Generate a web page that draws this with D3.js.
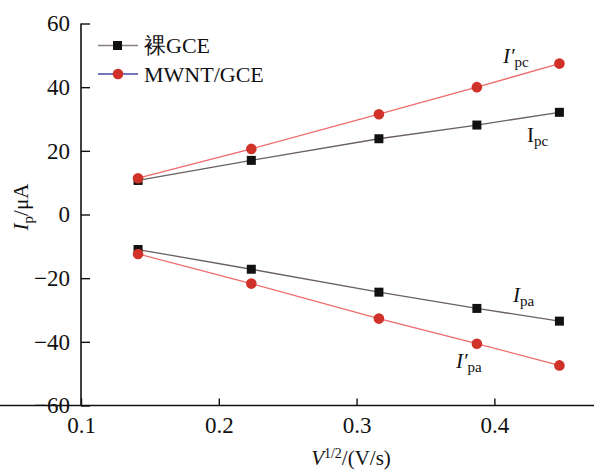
<!DOCTYPE html>
<html><head><meta charset="utf-8">
<script src="https://cdn.jsdelivr.net/npm/d3@7"></script>
<style>body{margin:0;background:#fff}svg{display:block}</style>
</head><body><svg id="c" width="594" height="474"></svg>
<script>
const xValues = [0.1414, 0.2236, 0.3162, 0.3873, 0.4472];
const bareIpc = [10.7, 17.0, 23.8, 28.1, 32.1];
const bareIpa = [-11.0, -17.2, -24.4, -29.5, -33.5];
const mwntIpc = [11.4, 20.6, 31.5, 40.0, 47.4];
const mwntIpa = [-12.4, -21.7, -32.7, -40.6, -47.4];
const xTicks = [0.1, 0.2, 0.3, 0.4];
const yTicks = [-60, -40, -20, 0, 20, 40, 60];
const seriesNames = ["裸GCE", "MWNT/GCE"];

const FONT = "'Liberation Serif', serif";
const svg = d3.select("#c").style("font-family", FONT);
const x = d3.scaleLinear().domain([0.1, 0.4723]).range([81, 594]);
const y = d3.scaleLinear().domain([-60, 60]).range([405.5, 23.5]);

const fmtX = d3.format(".1f");
const xAxis = svg.append("g").attr("transform", "translate(0,405.5)")
  .call(d3.axisBottom(x).tickValues(xTicks).tickSize(-7).tickPadding(11).tickFormat(fmtX));
const yAxis = svg.append("g").attr("transform", "translate(81,0)")
  .call(d3.axisLeft(y).tickValues(yTicks).tickSize(-9).tickPadding(11).tickFormat(d => d < 0 ? "\u2212" + Math.abs(d) : d));
[xAxis, yAxis].forEach(g => {
  g.attr("font-family", FONT).attr("font-size", 23);
  g.select(".domain").attr("stroke", "#111").attr("stroke-width", 1.6);
  g.selectAll(".tick line").attr("stroke", "#111").attr("stroke-width", 1.4);
  g.selectAll("text").attr("fill", "#111");
});
yAxis.selectAll(".domain").attr("d", "M0,405.5V23.5");
xAxis.selectAll(".domain").attr("d", "M0,0H594");

const line = d3.line().x((d, i) => x(xValues[i])).y(d => y(d));
const blackLine = "#6a6060", redLine = "#f06a6a", blackMark = "#111", redMark = "#d0322a";

function drawSeries(vals, lc, mc, shape) {
  svg.append("path").attr("d", line(vals)).attr("fill", "none").attr("stroke", lc).attr("stroke-width", 1.3);
  vals.forEach((v, i) => {
    const cx = x(xValues[i]), cy = y(v);
    if (shape === "square") svg.append("rect").attr("x", cx - 4.5).attr("y", cy - 4.5).attr("width", 9).attr("height", 9).attr("fill", mc);
    else svg.append("circle").attr("cx", cx).attr("cy", cy).attr("r", 5.3).attr("fill", mc);
  });
}
drawSeries(bareIpc, blackLine, blackMark, "square");
drawSeries(bareIpa, blackLine, blackMark, "square");
drawSeries(mwntIpc, redLine, redMark, "circle");
drawSeries(mwntIpa, redLine, redMark, "circle");

// legend
const lg = svg.append("g");
lg.append("line").attr("x1", 98).attr("x2", 138).attr("y1", 45.5).attr("y2", 45.5).attr("stroke", "#8a8080").attr("stroke-width", 1.3);
lg.append("rect").attr("x", 113).attr("y", 41).attr("width", 9).attr("height", 9).attr("fill", blackMark);
lg.append("line").attr("x1", 98).attr("x2", 138).attr("y1", 74).attr("y2", 74).attr("stroke", "#4a4aa8").attr("stroke-width", 1.3);
lg.append("circle").attr("cx", 118).attr("cy", 74).attr("r", 5.3).attr("fill", redMark);
lg.append("text").attr("x", 144).attr("y", 53).attr("font-size", 22).attr("fill", "#111").text(seriesNames[0]);
lg.append("text").attr("x", 144).attr("y", 82).attr("font-size", 22).attr("fill", "#111").text(seriesNames[1]);

// annotations
function label(xp, yp, main, italic, sub) {
  const t = svg.append("text").attr("x", xp).attr("y", yp).attr("font-size", 21).attr("fill", "#111");
  t.append("tspan").attr("font-style", italic ? "italic" : "normal").text(main);
  t.append("tspan").attr("font-size", 15).attr("dy", 4).text(sub);
}
label(503, 63, "I\u2032", true, "pc");
label(527, 142, "I", false, "pc");
label(513, 302, "I", true, "pa");
label(456, 368, "I\u2032", true, "pa");

// axis titles
const xt = svg.append("text").attr("x", 351).attr("y", 465).attr("text-anchor", "middle").attr("font-size", 21).attr("fill", "#111");
xt.append("tspan").attr("font-style", "italic").text("V");
xt.append("tspan").attr("font-size", 14).attr("dy", -7).text("1/2");
xt.append("tspan").attr("dy", 7).text("/(V/s)");

const yt = svg.append("text").attr("transform", "translate(28,207) rotate(-90)").attr("text-anchor", "middle").attr("font-size", 21).attr("fill", "#111");
yt.append("tspan").attr("font-style", "italic").text("I");
yt.append("tspan").attr("font-size", 15).attr("dy", 5).text("p");
yt.append("tspan").attr("dy", -5).text("/μA");
</script></body></html>
